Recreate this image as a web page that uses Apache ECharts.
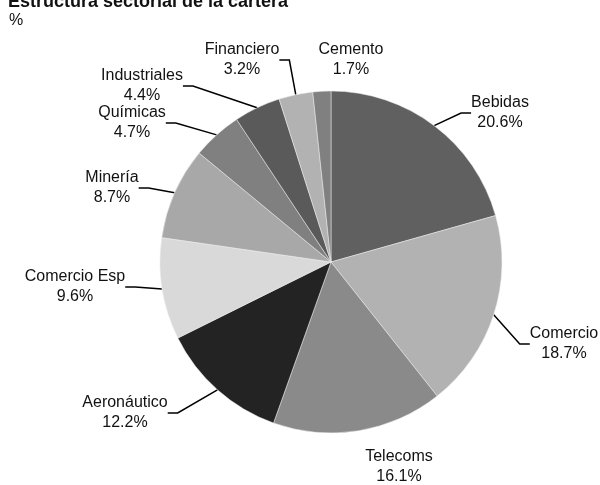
<!DOCTYPE html>
<html>
<head>
<meta charset="utf-8">
<script src="https://cdn.jsdelivr.net/npm/echarts@6/dist/echarts.min.js"></script>
<style>
html,body{margin:0;padding:0;background:#fff;}
#chart{width:600px;height:485px;}
</style>
</head>
<body>
<div id="chart"></div>
<script>
// datos del grafico
var sectores = ['Bebidas', 'Comercio', 'Telecoms', 'Aeronáutico', 'Comercio Esp', 'Minería', 'Químicas', 'Industriales', 'Financiero', 'Cemento'];
var porcentajes = [20.6, 18.7, 16.1, 12.2, 9.6, 8.7, 4.7, 4.4, 3.2, 1.7];
var colores = ['#606060', '#b2b2b2', '#8a8a8a', '#232323', '#d9d9d9', '#a8a8a8', '#808080', '#5a5a5a', '#b2b2b2', '#808080'];
// posicion de las etiquetas (centro del texto)
var posEtiquetas = [[500, 113], [564, 344], [399, 467], [125, 413], [75, 287], [112, 188], [132, 123], [142, 86], [242, 60], [351, 60]];

var fuente = '"Liberation Sans", Arial, sans-serif';

var chart = echarts.init(document.getElementById('chart'));
var option = {
	animation: false,
	title: {
		text: 'Estructura sectorial de la cartera',
		left: 3,
		top: -12,
		textStyle: {
			fontFamily: 'Liberation Sans',
			fontSize: 18,
			fontWeight: 'bold',
			color: '#111'
		}
	},
	graphic: [{
		type: 'text',
		left: 9,
		top: 13,
		style: {
			text: '%',
			font: '16px ' + fuente,
			fill: '#111'
		}
	}],
	color: colores,
	series: [{
		type: 'pie',
		center: [331, 262],
		radius: 171,
		startAngle: 90,
		clockwise: true,
		itemStyle: {
			borderColor: '#eeeeee',
			borderWidth: 0.5
		},
		label: {
			show: true,
			formatter: function (p) {
				return p.name + '\n' + p.value.toFixed(1) + '%';
			},
			fontFamily: fuente,
			fontSize: 16,
			lineHeight: 20,
			color: '#111',
			align: 'center',
			overflow: 'none'
		},
		labelLine: {
			show: true,
			length: 15,
			length2: 10,
			lineStyle: {
				color: '#000',
				width: 1.5
			}
		},
		labelLayout: function (params) {
			var p = posEtiquetas[params.dataIndex];
			return {
				x: p[0],
				y: p[1],
				align: 'center',
				verticalAlign: 'middle'
			};
		},
		data: sectores.map(function (s, i) {
			var d = { name: s, value: porcentajes[i] };
			if (s === 'Telecoms' || s === 'Cemento') {
				d.labelLine = { show: false };
			}
			return d;
		})
	}]
};
chart.setOption(option);
</script>
</body>
</html>
